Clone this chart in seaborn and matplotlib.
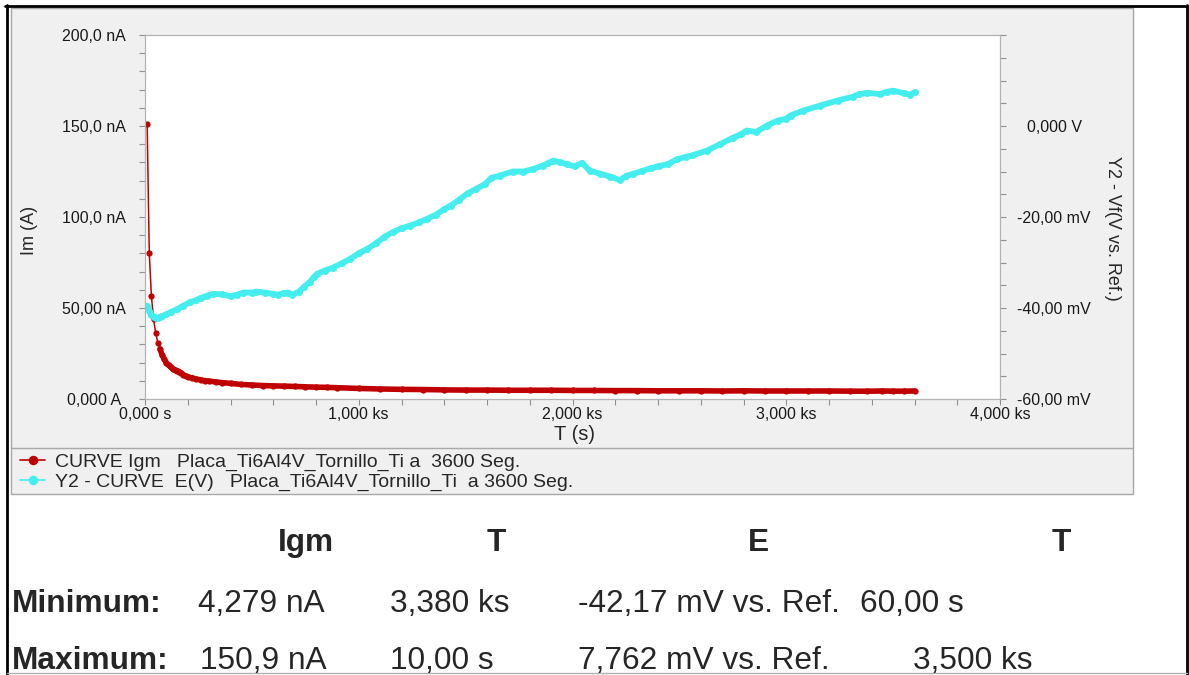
"""
Corrosion monitoring chart: Igm current and E(V) potential vs time,
Placa_Ti6Al4V_Tornillo_Ti a 3600 Seg., with min/max summary below.
"""

import pandas as pd
import seaborn as sns
import matplotlib.pyplot as plt
from matplotlib.lines import Line2D
from matplotlib.patches import Rectangle
from matplotlib.ticker import MultipleLocator

#####################################
# Data
#####################################

# Igm current, nA
t_igm = [10, 20, 30, 40, 50, 60, 70, 80, 90, 100, 110, 120, 130, 140, 150,
         160, 170, 180, 190, 200, 220, 240, 260, 280, 300, 330, 360, 400,
         450, 500, 550, 600, 650, 700, 750, 800, 850, 900, 1000, 1100, 1200,
         1300, 1400, 1500, 1600, 1700, 1800, 1900, 2000, 2100, 2200, 2300,
         2400, 2500, 2600, 2700, 2800, 2900, 3000, 3100, 3200, 3300, 3380,
         3450, 3500, 3550, 3600]
igm_na = [150.9, 80.2, 56.5, 44.0, 36.2, 31.0, 27.5, 24.2, 21.9, 19.8, 18.6,
          17.6, 16.6, 16.0, 15.6, 15.1, 14.2, 13.3, 12.7, 12.2, 11.6, 11.0,
          10.5, 10.1, 9.8, 9.4, 9.0, 8.6, 8.0, 7.7, 7.4, 7.2, 7.1, 6.9, 6.7,
          6.5, 6.4, 6.2, 5.8, 5.5, 5.3, 5.2, 5.0, 4.9, 4.9, 4.8, 4.8, 4.8,
          4.7, 4.7, 4.6, 4.6, 4.5, 4.5, 4.5, 4.4, 4.5, 4.4, 4.4, 4.4, 4.4,
          4.3, 4.279, 4.4, 4.3, 4.3, 4.4]

# E(V) potential, mV vs. Ref.
t_e = [10, 20, 30, 40, 50, 60, 70, 80, 100, 120, 150, 180, 210, 240, 260,
       290, 320, 360, 400, 430, 460, 500, 520, 560, 600, 620, 650, 670, 690,
       720, 745, 770, 790, 805, 840, 880, 920, 960, 1000, 1040, 1080, 1120,
       1160, 1200, 1240, 1280, 1320, 1360, 1400, 1430, 1470, 1510, 1550,
       1590, 1620, 1660, 1720, 1770, 1815, 1860, 1885, 1910, 1940, 1975,
       2010, 2045, 2080, 2130, 2175, 2222, 2250, 2285, 2325, 2365, 2405,
       2445, 2490, 2530, 2565, 2630, 2690, 2750, 2790, 2815, 2860, 2910,
       2960, 3000, 3020, 3080, 3160, 3240, 3310, 3340, 3380, 3440, 3470,
       3500, 3550, 3580, 3600]
e_mv = [-39.5, -40.6, -41.5, -41.9, -42.1, -42.17, -41.9, -41.8, -41.4,
        -40.9, -40.3, -39.5, -38.7, -38.3, -37.8, -37.3, -36.9, -37.0, -37.4,
        -37.1, -36.6, -36.6, -36.4, -36.6, -36.9, -37.1, -36.7, -36.6, -37.1,
        -36.4, -35.3, -34.3, -33.2, -32.5, -31.8, -31.1, -30.2, -29.2, -28.0,
        -27.0, -25.8, -24.4, -23.3, -22.5, -21.9, -21.2, -20.4, -19.5, -18.3,
        -17.5, -16.2, -14.8, -13.8, -12.8, -11.4, -10.9, -10.0, -10.0, -9.5,
        -8.7, -8.2, -7.6, -8.0, -8.4, -8.9, -8.1, -9.8, -10.5, -11.1, -11.9,
        -11.0, -10.5, -9.9, -9.3, -8.8, -8.4, -7.3, -6.8, -6.4, -5.4, -4.0,
        -2.6, -1.8, -1.0, -1.3, 0.1, 1.2, 1.6, 2.3, 3.4, 4.5, 5.6, 6.4, 7.0,
        7.3, 7.0, 7.5, 7.762, 7.2, 6.9, 7.4]

# axis ticks
x_ticks = [0, 1000, 2000, 3000, 4000]
x_tick_labels = ["0,000 s", "1,000 ks", "2,000 ks", "3,000 ks", "4,000 ks"]
y_ticks = [0, 50, 100, 150, 200]
y_tick_labels = ["0,000 A", "50,00 nA", "100,0 nA", "150,0 nA", "200,0 nA"]
e_ticks = [-60, -40, -20, 0]
e_tick_labels = ["-60,00 mV", "-40,00 mV", "-20,00 mV", "0,000 V"]

legend_labels = ["CURVE Igm   Placa_Ti6Al4V_Tornillo_Ti a  3600 Seg.",
                 "Y2 - CURVE  E(V)   Placa_Ti6Al4V_Tornillo_Ti  a 3600 Seg."]

# summary table
table_headers = ["Igm", "T", "E", "T"]
row_labels = ["Minimum:", "Maximum:"]
min_values = ["4,279 nA", "3,380 ks", "-42,17 mV vs. Ref.", "60,00 s"]
max_values = ["150,9 nA", "10,00 s", "7,762 mV vs. Ref.", "3,500 ks"]

RED = "#c00000"
CYAN = "#44eeee"
GRID_GREY = "#a8a8a8"

#####################################
# Figure
#####################################

sns.set_style("white")
plt.rcParams["font.family"] = ["Liberation Sans", "DejaVu Sans"]

W, H = 1189, 675
fig = plt.figure(figsize=(W / 100, H / 100), dpi=100)
fig.patch.set_facecolor("white")


def fx(px):
    return px / W


def fy(py):
    return 1 - py / H


# grey chart panel + legend separator
fig.add_artist(Rectangle((fx(11), fy(494)), fx(1133) - fx(11), fy(8) - fy(494),
                         transform=fig.transFigure, facecolor="#f0f0f0",
                         edgecolor=GRID_GREY, lw=1, zorder=-5))
fig.add_artist(Line2D([fx(11), fx(1133)], [fy(448), fy(448)],
                      transform=fig.transFigure, color=GRID_GREY, lw=1, zorder=-4))
# outer frame
for xs, ys, c, lw in [([7, 7], [5, 675], "black", 2.0),
                      ([5, 1187], [6, 6], "black", 2.0),
                      ([1187, 1187], [5, 675], "black", 2.0),
                      ([7, 1187], [673, 673], "#b0b0b0", 1.0)]:
    fig.add_artist(Line2D([fx(v) for v in xs], [fy(v) for v in ys],
                          transform=fig.transFigure, color=c, lw=lw, zorder=-4))

ax = fig.add_axes([fx(145), fy(399), fx(1000) - fx(145), fy(35) - fy(399)])
ax.set_facecolor("white")

df_i = pd.DataFrame({"t": t_igm, "igm": igm_na})
df_e = pd.DataFrame({"t": t_e, "e": e_mv})

sns.lineplot(data=df_i, x="t", y="igm", ax=ax, color=RED, linewidth=1.1,
             marker="o", markersize=4.5, markeredgewidth=0, legend=False)
sns.lineplot(data=df_i[df_i["t"] >= 70], x="t", y="igm", ax=ax, color=RED,
             linewidth=4.0, legend=False)

ax2 = ax.twinx()
sns.lineplot(data=df_e, x="t", y="e", ax=ax2, color=CYAN, linewidth=4.2,
             marker="o", markersize=5, markeredgewidth=0, legend=False)

ax.set_xlim(0, 4000)
ax.set_ylim(0, 200)
ax2.set_ylim(-60, 20)
ax.set_xlabel("")
ax.set_ylabel("")
ax2.set_ylabel("")

ax.set_xticks(x_ticks, x_tick_labels)
ax.xaxis.set_minor_locator(MultipleLocator(200))
ax.set_yticks(y_ticks, y_tick_labels)
ax.yaxis.set_minor_locator(MultipleLocator(10))
ax2.set_yticks(e_ticks, e_tick_labels)
ax2.yaxis.set_minor_locator(MultipleLocator(5))

tick_kw = dict(which="both", direction="out", length=4, width=0.8,
               color="#909090", labelsize=11.5, labelcolor="#1a1a1a")
ax.tick_params(axis="x", bottom=True, top=False, pad=2, **tick_kw)
ax.tick_params(axis="y", left=True, right=False, pad=33, **tick_kw)
ax2.tick_params(axis="y", right=True, left=False, pad=35, **tick_kw)
for lab in ax.get_yticklabels() + ax2.get_yticklabels():
    lab.set_ha("center")

for a in (ax, ax2):
    for sp in a.spines.values():
        sp.set_color("#b4b4b4")
        sp.set_linewidth(0.8)

fig.text(fx(575), fy(435), "T (s)", ha="center", va="center", fontsize=14.5)
fig.text(fx(30), fy(230), "Im (A)", ha="center", va="center", rotation=90, fontsize=13)
fig.text(fx(1112), fy(228), "Y2 - Vf(V vs. Ref.)", ha="center", va="center",
         rotation=270, fontsize=13)

handles = [Line2D([], [], color=RED, lw=1.2, marker="o", markersize=5.8),
           Line2D([], [], color=CYAN, lw=1.2, marker="o", markersize=5.8)]
fig.legend(handles, legend_labels, loc="upper left",
           bbox_to_anchor=(fx(20), fy(453)), frameon=False, fontsize=14,
           handlelength=1.3, handletextpad=0.52, labelspacing=0.12,
           borderpad=0, borderaxespad=0)

# summary table
for txt, x in zip(table_headers, [278, 487, 748, 1052]):
    fig.text(fx(x), fy(551), txt, fontsize=22.8, fontweight="bold", va="baseline")
for txt, y in zip(row_labels, [612, 669]):
    fig.text(fx(12), fy(y), txt, fontsize=22.8, fontweight="bold", va="baseline")
for txt, x in zip(min_values, [198, 390, 578, 860]):
    fig.text(fx(x), fy(612), txt, fontsize=22.8, va="baseline")
for txt, x in zip(max_values, [200, 390, 578, 913]):
    fig.text(fx(x), fy(669), txt, fontsize=22.8, va="baseline")

fig.savefig("out.png", dpi=100)
